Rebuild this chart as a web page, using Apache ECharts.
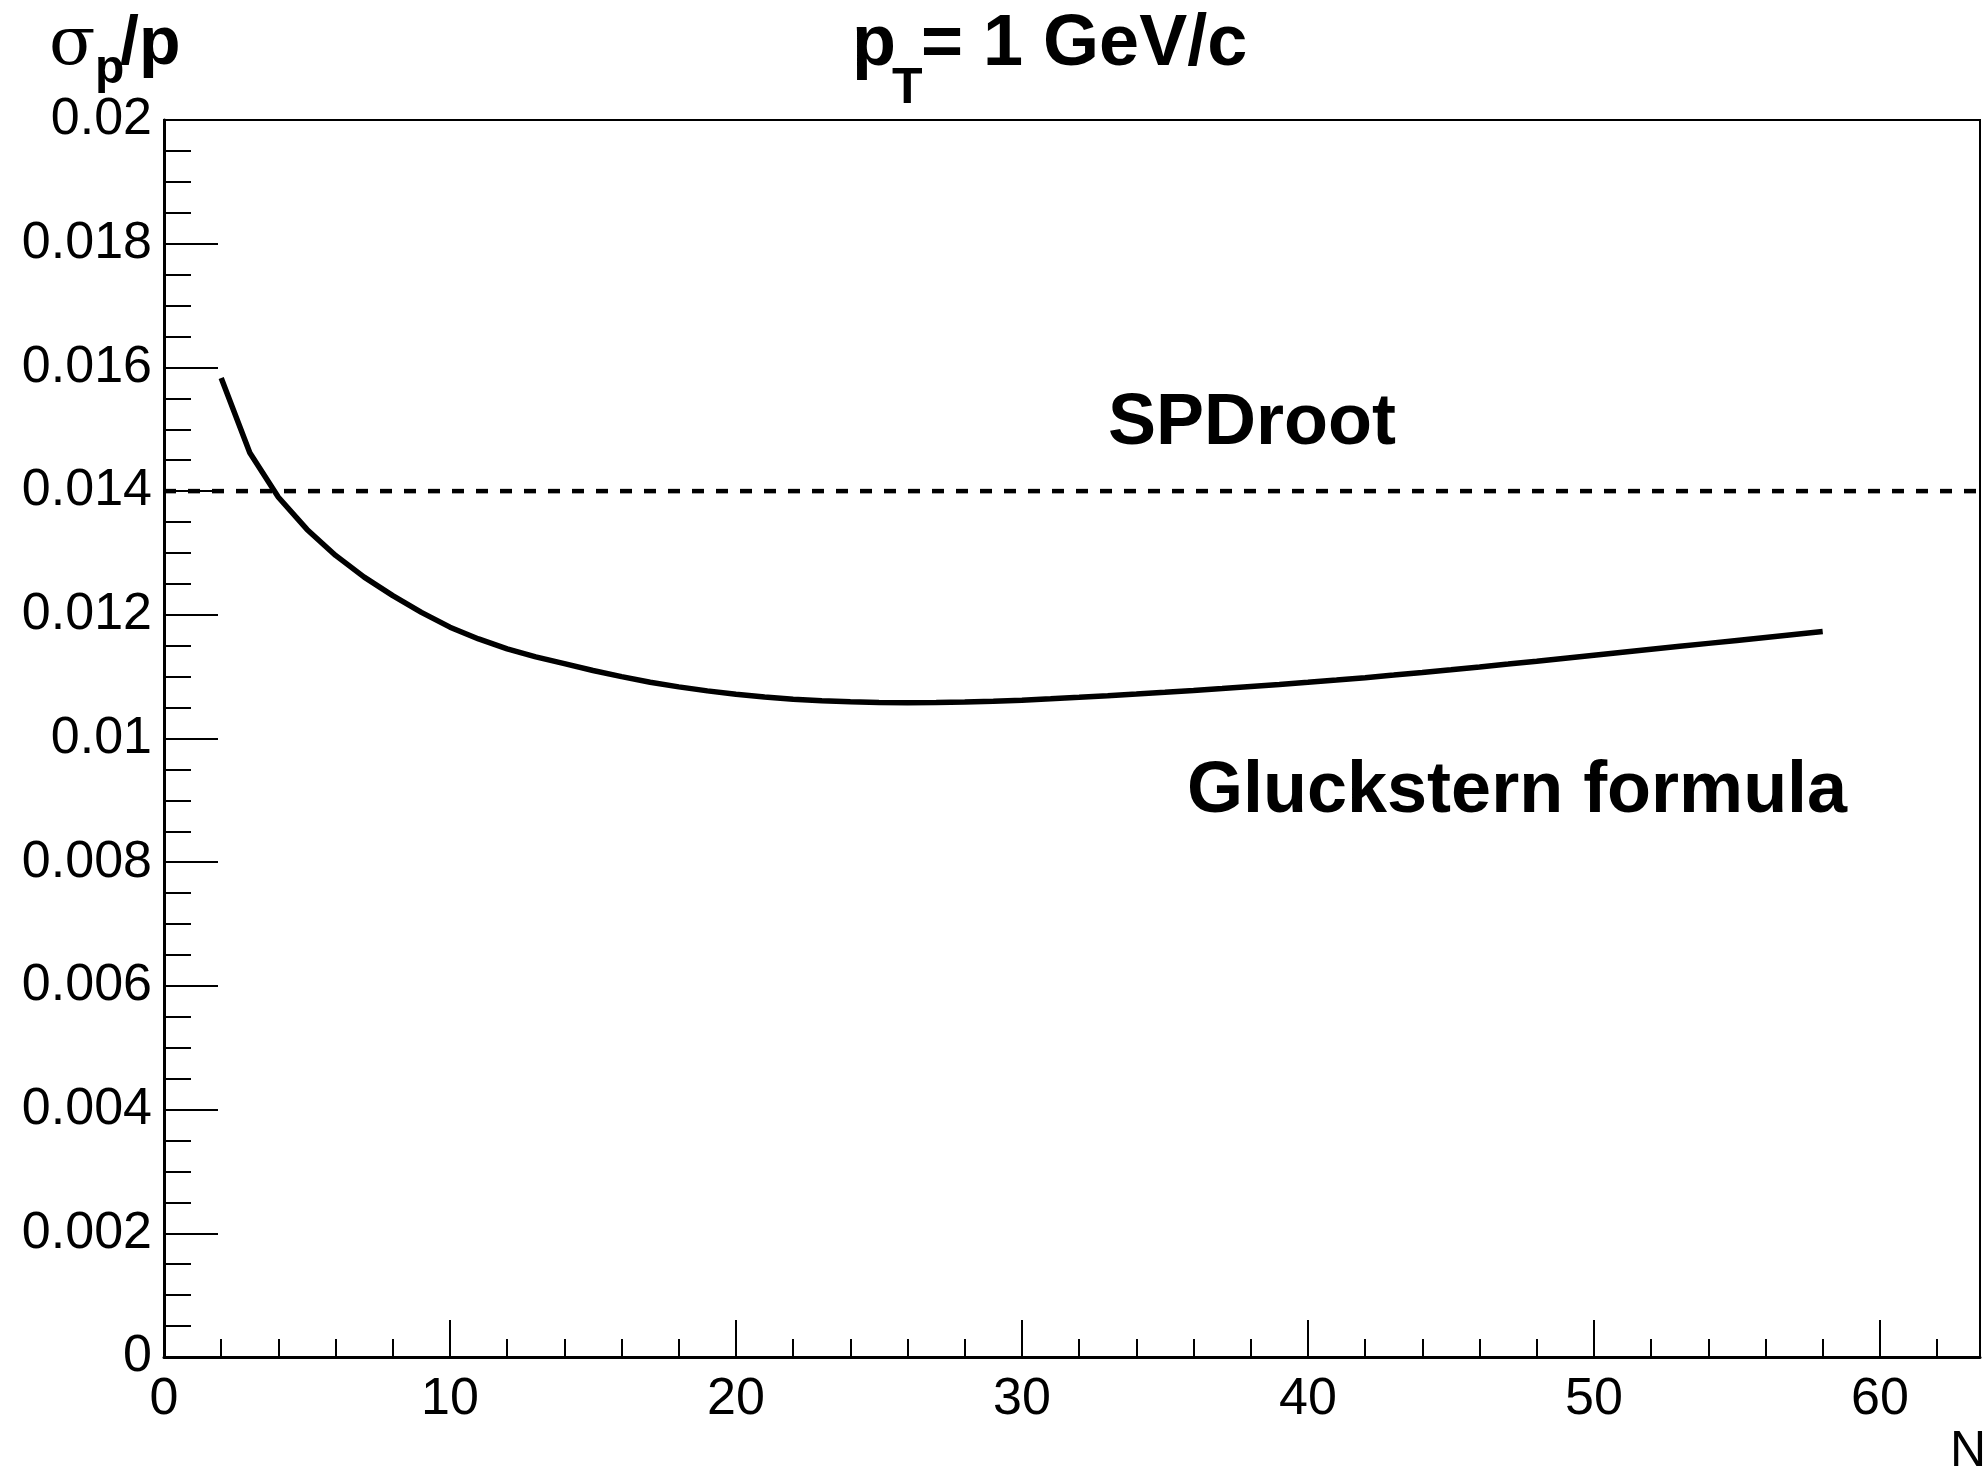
<!DOCTYPE html>
<html>
<head>
<meta charset="utf-8">
<title>sigma_p/p vs N</title>
<script src="https://cdn.jsdelivr.net/npm/echarts@6/dist/echarts.min.js"></script>
<style>
  html, body { margin: 0; padding: 0; background: #fff; }
  #main { width: 1983px; height: 1471px; }
</style>
</head>
<body>
<div id="main"></div>
<script>
// number of hits N
var nHits = [2, 3, 4, 5, 6, 7, 8, 9, 10, 11, 12, 13, 14, 15, 16, 17, 18, 19, 20,
  21, 22, 23, 24, 25, 26, 27, 28, 29, 30, 31, 32, 33, 34, 35, 36, 37, 38, 39, 40,
  41, 42, 43, 44, 45, 46, 47, 48, 49, 50, 51, 52, 53, 54, 55, 56, 57, 58];
// Gluckstern formula, sigma_p/p
var gluckstern = [0.01583, 0.01462, 0.0139, 0.01338, 0.01296, 0.01261, 0.01231, 0.01204, 0.0118,
  0.01161, 0.01145, 0.01132, 0.01121, 0.0111, 0.011, 0.01091, 0.010835, 0.01077, 0.010715,
  0.01067, 0.010635, 0.01061, 0.010593, 0.010583, 0.010579, 0.010581, 0.010589, 0.010602, 0.01062,
  0.010642, 0.010666, 0.010692, 0.010719, 0.010747, 0.010776, 0.010807, 0.01084, 0.010873, 0.010908,
  0.010945, 0.010984, 0.011025, 0.011068, 0.011112, 0.011157, 0.011203, 0.01125, 0.011298, 0.011346,
  0.011394, 0.011442, 0.01149, 0.011538, 0.011586, 0.011634, 0.011682, 0.01173];
// SPDroot level (dashed)
var spdX = [0, 63.5];
var spdVal = [0.014, 0.014];

var font = "'Liberation Sans', Helvetica, Arial, sans-serif";

function pairs(xs, ys) {
  var out = [];
  for (var i = 0; i < xs.length; i++) {
    out.push([xs[i], ys[i]]);
  }
  return out;
}

// small helper for the free texts
function label(text, left, top, css) {
  return { type: "text", left: left, top: top, style: { text: text, font: css, fill: "#000" } };
}

var myChart = echarts.init(document.getElementById("main"));

var option = {
  backgroundColor: "#fff",
  animation: false,
  grid: {
    left: 164,
    top: 120,
    right: 3,
    bottom: 114,
    show: true,
    borderColor: "#000",
    borderWidth: 2
  },
  xAxis: {
    type: "value",
    min: 0,
    max: 63.5,
    interval: 10,
    axisLine: { show: true, onZero: false, lineStyle: { color: "#000", width: 3 } },
    axisTick: { show: true, inside: true, length: 37, lineStyle: { color: "#000", width: 2 } },
    minorTick: { show: true, splitNumber: 5, length: 18, lineStyle: { color: "#000", width: 2 } },
    splitLine: { show: false },
    axisLabel: {
      color: "#000",
      fontFamily: font,
      fontSize: 52,
      margin: 17,
      showMaxLabel: false,
      formatter: function (v) { return String(v); }
    }
  },
  yAxis: {
    type: "value",
    min: 0,
    max: 0.02,
    interval: 0.002,
    axisLine: { show: true, onZero: false, lineStyle: { color: "#000", width: 3 } },
    axisTick: { show: true, inside: true, length: 54, lineStyle: { color: "#000", width: 2 } },
    minorTick: { show: true, splitNumber: 4, length: 27, lineStyle: { color: "#000", width: 2 } },
    splitLine: { show: false },
    axisLabel: {
      color: "#000",
      fontFamily: font,
      fontSize: 52,
      margin: 12,
      padding: [16, 0, 0, 0],
      formatter: function (v) { return String(+v.toFixed(4)); }
    }
  },
  series: [
    {
      name: "SPDroot",
      type: "line",
      data: pairs(spdX, spdVal),
      showSymbol: false,
      lineStyle: { color: "#000", width: 4.5, type: [12, 12] },
      z: 3
    },
    {
      name: "Gluckstern formula",
      type: "line",
      data: pairs(nHits, gluckstern),
      showSymbol: false,
      smooth: false,
      lineStyle: { color: "#000", width: 5.5 },
      z: 4
    }
  ],
  // title, axis titles and the two curve labels
  graphic: [
    label("p", 852, 9, "bold 72px " + font),
    label("T", 892, 64, "bold 50px " + font),
    label("= 1 GeV/c", 921, 9, "bold 72px " + font),

    label("σ", 49, 12, "68px 'DejaVu Serif', 'Liberation Serif', serif"),
    label("p", 95, 46, "bold 48px " + font),
    label("/p", 120, 11, "bold 68px " + font),

    label("N", 1950, 1427, "50px " + font),

    label("SPDroot", 1108, 388, "bold 72px " + font),
    label("Gluckstern formula", 1187, 756, "bold 72px " + font)
  ]
};

myChart.setOption(option);
</script>
</body>
</html>
